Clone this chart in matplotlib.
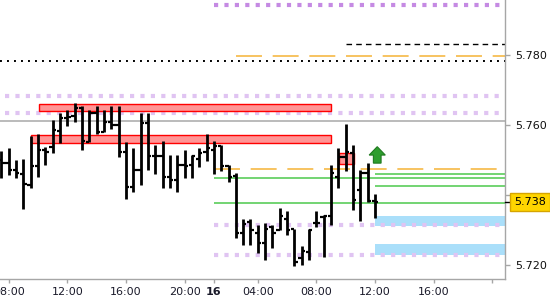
import matplotlib
matplotlib.use("Agg")
import matplotlib.pyplot as plt
import matplotlib.transforms as mtransforms
from matplotlib.patches import Rectangle, FancyArrow
import numpy as np

# ---- OHLC data (30-minute bars) ----
opens = [5.7500, 5.7491, 5.7471, 5.7460, 5.7429, 5.7483, 5.7529, 5.7537, 5.7583, 5.7620,
         5.7626, 5.7649, 5.7551, 5.7634, 5.7580, 5.7609, 5.7600, 5.7523, 5.7423, 5.7471,
         5.7606, 5.7511, 5.7511, 5.7451, 5.7443, 5.7486, 5.7486, 5.7503, 5.7523, 5.7529,
         5.7540, 5.7483, 5.7454, 5.7291, 5.7323, 5.7291, 5.7263, 5.7309, 5.7300, 5.7331,
         5.7303, 5.7220, 5.7237, 5.7320, 5.7337, 5.7340, 5.7451, 5.7509, 5.7520, 5.7414,
         5.7463, 5.7383]
highs = [5.7526, 5.7534, 5.7500, 5.7503, 5.7569, 5.7574, 5.7537, 5.7614, 5.7634, 5.7643,
         5.7663, 5.7654, 5.7643, 5.7654, 5.7643, 5.7654, 5.7654, 5.7551, 5.7534, 5.7634,
         5.7634, 5.7543, 5.7554, 5.7514, 5.7514, 5.7529, 5.7514, 5.7534, 5.7574, 5.7554,
         5.7543, 5.7486, 5.7463, 5.7331, 5.7331, 5.7314, 5.7320, 5.7314, 5.7363, 5.7354,
         5.7303, 5.7254, 5.7303, 5.7354, 5.7343, 5.7486, 5.7534, 5.7603, 5.7543, 5.7471,
         5.7491, 5.7403]
lows = [5.7449, 5.7457, 5.7449, 5.7360, 5.7420, 5.7451, 5.7486, 5.7520, 5.7549, 5.7597,
        5.7609, 5.7529, 5.7551, 5.7574, 5.7580, 5.7589, 5.7509, 5.7389, 5.7409, 5.7429,
        5.7471, 5.7460, 5.7420, 5.7420, 5.7409, 5.7449, 5.7449, 5.7480, 5.7497, 5.7460,
        5.7469, 5.7437, 5.7277, 5.7257, 5.7257, 5.7234, 5.7214, 5.7249, 5.7300, 5.7286,
        5.7197, 5.7200, 5.7214, 5.7309, 5.7223, 5.7314, 5.7420, 5.7469, 5.7357, 5.7326,
        5.7380, 5.7334]
closes = [5.7491, 5.7471, 5.7463, 5.7431, 5.7483, 5.7529, 5.7523, 5.7586, 5.7620, 5.7623,
          5.7649, 5.7554, 5.7634, 5.7580, 5.7609, 5.7600, 5.7523, 5.7423, 5.7471, 5.7606,
          5.7511, 5.7511, 5.7451, 5.7443, 5.7486, 5.7483, 5.7511, 5.7520, 5.7534, 5.7540,
          5.7483, 5.7451, 5.7291, 5.7317, 5.7300, 5.7263, 5.7303, 5.7291, 5.7340, 5.7300,
          5.7209, 5.7240, 5.7300, 5.7320, 5.7340, 5.7463, 5.7509, 5.7523, 5.7386, 5.7463,
          5.7383, 5.7380]

# ---- axis ticks ----
tick_idx = [1, 9, 17, 25, 29, 35, 43, 51, 59, 67]
tick_labels = ["08:00", "12:00", "16:00", "20:00", "16", "04:00", "08:00", "12:00", "16:00", ""]
y_ticks = [5.720, 5.740, 5.760, 5.780]
y_tick_labels = ["5.720", "", "5.760", "5.780"]   # 5.740 is hidden behind the price box
last_price = 5.738
last_price_label = "5.738"

# ---- levels ----
gray_level = 5.7611
black_dotted_level = 5.7783
black_dashed_level = 5.7831
orange_levels = [(5.7797, 32), (5.7474, 29)]           # (price, start index)
purple_dark_level = 5.7943
purple_light_levels = [(5.7683, 0.5), (5.7634, 0.5), (5.7314, 29), (5.7229, 29)]
green_levels = [(5.7449, 29), (5.7377, 29), (5.7460, 51), (5.7426, 51)]
red_zones = [(5.1, 45.0, 5.7640, 5.7660), (4.0, 45.0, 5.7549, 5.7571), (46.1, 48.1, 5.7488, 5.7521)]
blue_zones = [(51.0, 5.7311, 5.7341), (51.0, 5.7229, 5.7260)]
arrow_idx, arrow_low, arrow_high = 51.3, 5.7491, 5.7538

fig = plt.figure(figsize=(5.5, 3.0), dpi=100)
ax = fig.add_axes([0, 21 / 300, 505 / 550, 279 / 300])
x_left, x_right = -0.19, 68.74
ax.set_xlim(x_left, x_right)
ax.set_ylim(5.716, 5.7957)

# levels
ax.hlines(gray_level, x_left, x_right, color="#a8a8a8", lw=1.1, zorder=1)
ax.hlines(black_dotted_level, x_left, x_right, color="black", lw=1.4,
          linestyles=[(0, (1, 2.6))], zorder=2)
ax.hlines(black_dashed_level, 47, x_right, color="black", lw=1.0,
          linestyles=[(0, (4, 3))], zorder=2)
for p, s in orange_levels:
    ax.hlines(p, s, x_right, color="#f5b335", lw=1.1, linestyles=[(0, (17, 7))], zorder=2)
ax.hlines(purple_dark_level, 29, x_right, color="#c58ae3", lw=3.0,
          linestyles=[(0, (1.0, 1.5))], zorder=2)
for p, s in purple_light_levels:
    ax.hlines(p, s, x_right, color="#e0c4f2", lw=3.0,
              linestyles=[(0, (1.0, 1.5))], zorder=2)
for p, s in green_levels:
    ax.hlines(p, s, x_right, color="#4cc94c", lw=1.1, zorder=2)

for x0, x1, y0, y1 in red_zones:
    ax.add_patch(Rectangle((x0, y0), x1 - x0, y1 - y0, fc="#ff9595", ec="#ff0000",
                           lw=1.0, zorder=2.5))
for x0, y0, y1 in blue_zones:
    ax.add_patch(Rectangle((x0, y0), x_right - x0, y1 - y0, fc="#aadffa", ec="none",
                           lw=0, zorder=1.5))

# OHLC bars
idx = np.arange(len(opens))
ax.vlines(idx, lows, highs, color="black", lw=2.0, zorder=4)
ax.hlines(opens, idx - 0.45, idx, color="black", lw=1.6, zorder=4)
ax.hlines(closes, idx, idx + 0.45, color="black", lw=1.6, zorder=4)

# signal arrow
ax.add_patch(FancyArrow(arrow_idx, arrow_low, 0, arrow_high - arrow_low,
                        width=1.05, head_width=2.2, head_length=0.0024,
                        length_includes_head=True, fc="#2e9e2e", ec="#1f7a1f",
                        lw=0.8, zorder=5))

# spines & ticks
for s in ["left", "top"]:
    ax.spines[s].set_visible(False)
for s in ["right", "bottom"]:
    ax.spines[s].set_color("#a6a6a6")
    ax.spines[s].set_linewidth(1.0)
ax.yaxis.tick_right()
ax.set_yticks(y_ticks)
ax.set_yticklabels(y_tick_labels)
ax.tick_params(axis="y", direction="out", length=3.6, width=1.0, color="#a6a6a6",
               labelsize=8, pad=3.6, labelcolor="#111111")
ax.set_xticks(tick_idx)
ax.set_xticklabels(tick_labels)
ax.tick_params(axis="x", direction="out", length=3.0, width=1.0, color="#a6a6a6",
               labelsize=8, pad=2.5, labelcolor="#1a1a2a")
for lab in ax.get_xticklabels():
    if lab.get_text() == "16":
        lab.set_fontweight("bold")

# last price label
trans = mtransforms.blended_transform_factory(ax.transAxes, ax.transData)
ax.plot([1.0, 1.0 + 6 / 505], [last_price, last_price], color="black", lw=1.0,
        transform=trans, clip_on=False, zorder=9)
ax.text(1.0 + 9 / 505, last_price, last_price_label, transform=trans, ha="left",
        va="center", fontsize=8, color="black", zorder=10, clip_on=False,
        bbox=dict(boxstyle="square,pad=0.35", fc="#ffd500", ec="#d6a400", lw=1.0))

fig.savefig("out.png", dpi=100)
